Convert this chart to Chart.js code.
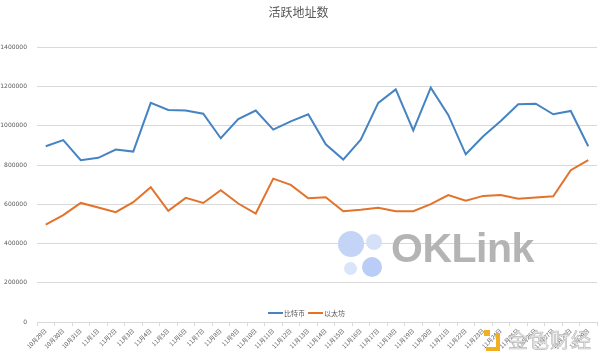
<!DOCTYPE html>
<html>
<head>
<meta charset="utf-8">
<script src="https://cdn.jsdelivr.net/npm/chart.js@4/dist/chart.umd.min.js"></script>
<style>
  html, body { margin: 0; padding: 0; background: #fff; }
  .wrap { position: relative; width: 600px; height: 358px; font-family: "Noto Sans CJK SC", "DejaVu Sans", sans-serif; }
  canvas { position: absolute; left: 0; top: 0; }
  .mark { position: absolute; pointer-events: none; }
  .dot { position: absolute; border-radius: 50%; }
  .oklink { left: 391px; top: 228px; font-family: "Liberation Sans", Arial, sans-serif; font-weight: bold; font-size: 41px; color: #b4b4b4; line-height: 1; letter-spacing: -0.5px; }
  .jinse { left: 508px; top: 330px; font-size: 20px; color: #e9e9e9; line-height: 1; -webkit-text-stroke: 0.6px #b9b9b9; letter-spacing: 1px; }
</style>
</head>
<body>
<div class="wrap">
  <canvas id="activeChart" width="600" height="358"></canvas>
  <!-- watermarks -->
  <div class="mark dot" style="left:338px;top:231px;width:26px;height:26px;background:#c3d4f6;"></div>
  <div class="mark dot" style="left:366px;top:234px;width:16px;height:16px;background:#d6e1f9;"></div>
  <div class="mark dot" style="left:344px;top:262px;width:13px;height:13px;background:#dbe5fa;"></div>
  <div class="mark dot" style="left:362px;top:257px;width:20px;height:20px;background:#b9cdf6;"></div>
  <div class="mark oklink">OKLink</div>
  <div class="mark" style="left:486px;top:333px;width:14px;height:18px;border:4px solid #f0b021;border-top:none;border-left:none;box-sizing:border-box;"></div>
  <div class="mark" style="left:484px;top:330px;width:6px;height:6px;background:#f0b021;"></div>
  <div class="mark jinse">金色财经</div>
</div>
<script>
document.addEventListener('DOMContentLoaded', () => {

    // data
    const dates = ['10月29日', '10月30日', '10月31日', '11月1日', '11月2日', '11月3日', '11月4日', '11月5日',
        '11月6日', '11月7日', '11月8日', '11月9日', '11月10日', '11月11日', '11月12日', '11月13日',
        '11月14日', '11月15日', '11月16日', '11月17日', '11月18日', '11月19日', '11月20日', '11月21日',
        '11月22日', '11月23日', '11月24日', '11月25日', '11月26日', '11月27日', '11月28日', '11月29日'];
    const btcValues = [896000, 927000, 825000, 837000, 879000, 869000, 1117000, 1081000,
        1078000, 1062000, 937000, 1035000, 1078000, 981000, 1023000, 1059000,
        906000, 828000, 930000, 1117000, 1186000, 977000, 1195000, 1056000,
        855000, 947000, 1025000, 1110000, 1113000, 1059000, 1076000, 896000];
    const ethValues = [497000, 545000, 607000, 584000, 560000, 611000, 687000, 567000,
        633000, 607000, 672000, 604000, 553000, 731000, 699000, 631000,
        636000, 565000, 572000, 582000, 565000, 565000, 601000, 647000,
        618000, 643000, 647000, 628000, 635000, 641000, 774000, 825000];
    const yTicks = [0, 200000, 400000, 600000, 800000, 1000000, 1200000, 1400000];

    const textColor = '#595959';
    const gridColor = '#d9d9d9';

    // legend sits inside the plot, just above the zero line
    const innerLegend = {
        id: 'innerLegend',
        afterDraw(chart) {
            const ctx = chart.ctx;
            const y = 313;
            let x = 268;
            ctx.save();
            ctx.font = '7px "Noto Sans CJK SC", sans-serif';
            ctx.textBaseline = 'middle';
            chart.data.datasets.forEach(ds => {
                ctx.strokeStyle = ds.borderColor;
                ctx.lineWidth = 2;
                ctx.beginPath();
                ctx.moveTo(x, y);
                ctx.lineTo(x + 15, y);
                ctx.stroke();
                ctx.fillStyle = textColor;
                ctx.fillText(ds.label, x + 16, y);
                x += 40;
            });
            ctx.restore();
        }
    };

    const ctx = document.getElementById('activeChart').getContext('2d');
    new Chart(ctx, {
        type: 'line',
        data: {
            labels: dates,
            datasets: [
                { label: '比特币', data: btcValues, borderColor: '#4583c3', borderWidth: 2, pointRadius: 0, tension: 0 },
                { label: '以太坊', data: ethValues, borderColor: '#e3722b', borderWidth: 2, pointRadius: 0, tension: 0 }
            ]
        },
        options: {
            responsive: false,
            animation: false,
            devicePixelRatio: 1,
            layout: { padding: { top: 0, right: 3, bottom: 0, left: 0 } },
            plugins: {
                legend: { display: false },
                tooltip: { enabled: false },
                title: {
                    display: true,
                    text: '活跃地址数',
                    color: textColor,
                    font: { size: 12, family: '"Noto Sans CJK SC", sans-serif', weight: 'normal' },
                    padding: { top: 5, bottom: 28 }
                }
            },
            scales: {
                x: {
                    offset: true,
                    grid: { offset: true, drawOnChartArea: false, drawTicks: true, tickLength: 4, color: gridColor },
                    border: { color: gridColor },
                    ticks: {
                        autoSkip: false, minRotation: 45, maxRotation: 45, padding: 1,
                        color: textColor, font: { size: 6, family: '"Noto Sans CJK SC", sans-serif' }
                    },
                    afterFit: (scale) => { scale.height = 36; }
                },
                y: {
                    min: 0,
                    max: 1400000,
                    afterBuildTicks: (scale) => { scale.ticks = yTicks.map(v => ({ value: v })); },
                    grid: { color: gridColor, drawTicks: false },
                    border: { display: false },
                    ticks: {
                        padding: 10, color: textColor,
                        font: { size: 6, family: '"DejaVu Sans", sans-serif' },
                        callback: (v) => String(v)
                    },
                    afterFit: (scale) => { scale.width = 37; }
                }
            }
        },
        plugins: [innerLegend]
    });
});
</script>
</body>
</html>
